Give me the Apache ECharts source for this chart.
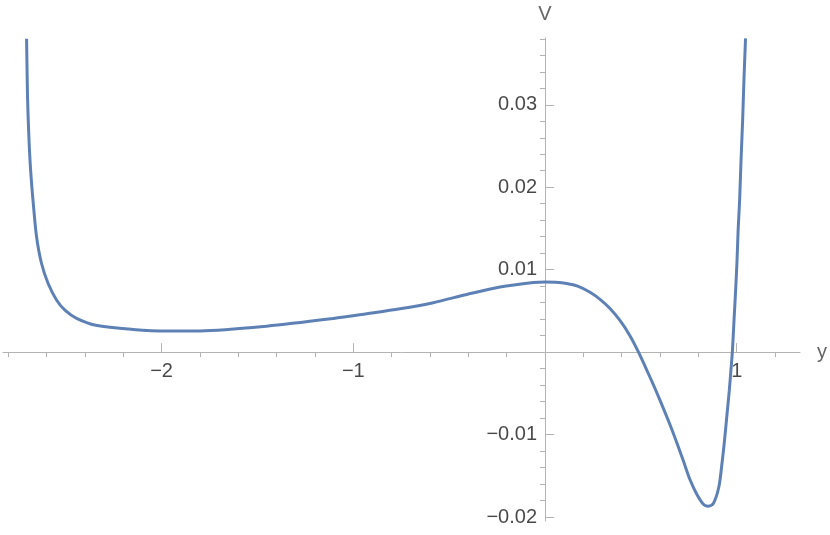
<!DOCTYPE html>
<html lang="en">
  <head>
    <meta charset="utf-8" />
    <title>V(y)</title>
    <style>
      html, body { margin: 0; padding: 0; background: #fff; }
      #chart-container { width: 830px; height: 535px; }
    </style>
  </head>
  <body>
    <div id="chart-container"></div>
    <script src="https://cdn.jsdelivr.net/npm/echarts@6/dist/echarts.min.js"></script>
    <script>
      // curve
      var yVals = [
        -2.704, -2.699, -2.692, -2.683, -2.669, -2.652, -2.626, -2.591, -2.547, -2.504,
        -2.443, -2.343, -2.149, -1.973, -1.800, -1.452, -1.104, -0.930, -0.756, -0.583,
        -0.408, -0.235, -0.061, 0.0, 0.056, 0.113, 0.170, 0.235, 0.287, 0.339,
        0.391, 0.443, 0.487, 0.522, 0.565, 0.600, 0.652, 0.687, 0.721, 0.756,
        0.791, 0.826, 0.849, 0.878, 0.9066, 0.9233, 0.9364, 0.9499, 0.9614, 0.9697,
        0.9771, 0.9859, 0.9943, 1.0016, 1.0073, 1.0151, 1.0224, 1.0308, 1.0376, 1.0459
      ];
      var vVals = [
        0.0380, 0.0309, 0.0261, 0.0221, 0.0180, 0.0140, 0.01075, 0.0083, 0.0063, 0.0051,
        0.0041, 0.00327, 0.00275, 0.00255, 0.00257, 0.00315, 0.00408, 0.00465, 0.00525, 0.0060,
        0.0070, 0.0079, 0.00845, 0.00852, 0.00848, 0.00832, 0.0080, 0.00726, 0.0064, 0.0053,
        0.00385, 0.00200, 0.00004, -0.00172, -0.00395, -0.00585, -0.0088, -0.01095, -0.01315, -0.01545,
        -0.0172, -0.01845, -0.01868, -0.01835, -0.01636, -0.01345, -0.01067, -0.00739, -0.00461, -0.00218,
        0.0, 0.00388, 0.00752, 0.01115, 0.01479, 0.01842, 0.02327, 0.02812, 0.03297, 0.03806
      ];

      var xMajor = [-2, -1, 1];
      var yMajor = [-0.02, -0.01, 0.01, 0.02, 0.03];
      var xMinor = [];
      for (var i = -14; i <= 6; i++) {
        if (i % 5 !== 0) xMinor.push(Math.round(i * 0.2 * 10) / 10);
      }
      var yMinor = [];
      for (var k = -10; k <= 19; k++) {
        if (k % 5 !== 0) yMinor.push(Math.round(k * 0.002 * 1000) / 1000);
      }

      var xRange = { min: -2.827, max: 1.330 };
      var yRange = { min: -0.02048, max: 0.0381 };

      function minus(v) {
        return v < 0 ? "\u2212" + String(Math.abs(v)) : String(v);
      }

      var dom = document.getElementById("chart-container");
      var myChart = echarts.init(dom, null, { renderer: "canvas" });

      var axisColor = "#b3b3b3";
      var fontFam = "Liberation Sans, Arial, sans-serif";

      var curve = yVals.map(function (x, i) { return [x, vVals[i]]; });
      // tick labels sit on the axes that cross at the origin
      var xLabelPts = xMajor.map(function (v) { return [v, 0]; });
      var yLabelPts = yMajor.map(function (v) { return [0, v]; });

      var option = {
        animation: false,
        grid: { left: 3, right: 30, top: 38, bottom: 14, containLabel: false, outerBoundsMode: "none" },
        xAxis: [
          {
            type: "value",
            min: xRange.min,
            max: xRange.max,
            name: "y",
            nameLocation: "end",
            nameGap: 17,
            nameTextStyle: { color: "#666", fontSize: 20, fontFamily: fontFam },
            axisLine: { onZero: true, lineStyle: { color: axisColor, width: 1 } },
            axisTick: { show: true, inside: true, length: 9, customValues: xMajor, lineStyle: { color: axisColor } },
            axisLabel: { show: false },
            splitLine: { show: false }
          },
          {
            type: "value",
            min: xRange.min,
            max: xRange.max,
            axisLine: { show: false, onZero: true },
            axisTick: { show: true, inside: true, length: 5, customValues: xMinor, lineStyle: { color: axisColor } },
            axisLabel: { show: false },
            splitLine: { show: false }
          }
        ],
        yAxis: [
          {
            type: "value",
            min: yRange.min,
            max: yRange.max,
            name: "V",
            nameLocation: "end",
            nameGap: 14,
            nameTextStyle: { color: "#666", fontSize: 20, fontFamily: fontFam },
            axisLine: { onZero: true, lineStyle: { color: axisColor, width: 1 } },
            axisTick: { show: true, inside: true, length: 9, customValues: yMajor, lineStyle: { color: axisColor } },
            axisLabel: { show: false },
            splitLine: { show: false }
          },
          {
            type: "value",
            min: yRange.min,
            max: yRange.max,
            axisLine: { show: false, onZero: true },
            axisTick: { show: true, inside: true, length: 5, customValues: yMinor, lineStyle: { color: axisColor } },
            axisLabel: { show: false },
            splitLine: { show: false }
          }
        ],
        series: [
          {
            type: "line",
            data: curve,
            showSymbol: false,
            smooth: 0.3,
            lineStyle: { color: "#5e81b5", width: 3 },
            clip: true,
            z: 3
          },
          {
            type: "scatter",
            data: xLabelPts,
            symbolSize: 0,
            silent: true,
            label: {
              show: true,
              position: "bottom",
              distance: 9,
              color: "#1a1a1a",
              fontSize: 20,
              fontFamily: fontFam,
              formatter: function (p) { return minus(p.value[0]); }
            },
            z: 2
          },
          {
            type: "scatter",
            data: yLabelPts,
            symbolSize: 0,
            silent: true,
            label: {
              show: true,
              position: "left",
              distance: 8,
              color: "#1a1a1a",
              fontSize: 20,
              fontFamily: fontFam,
              formatter: function (p) { return minus(p.value[1]); }
            },
            z: 2
          }
        ]
      };

      myChart.setOption(option);
      window.addEventListener("resize", myChart.resize);
    </script>
  </body>
</html>
